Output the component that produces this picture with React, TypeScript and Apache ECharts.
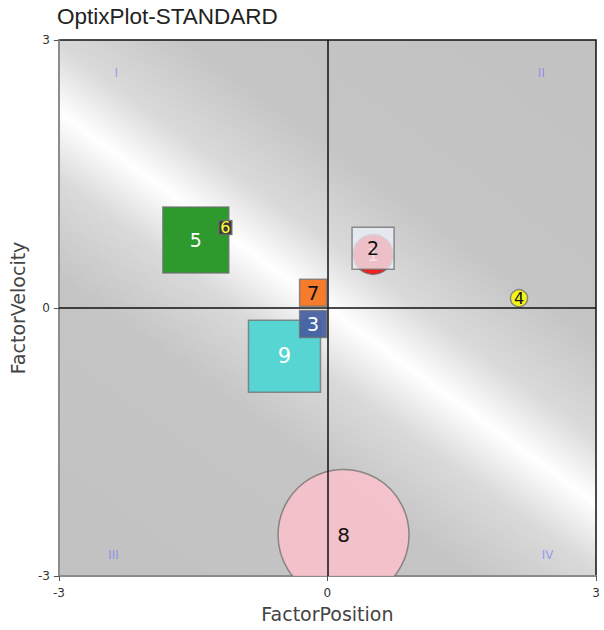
import React, { useEffect, useRef } from "react";
import * as echarts from "echarts";

// ---- data ----
const ids = ["1", "2", "3", "4", "5", "6", "7", "8", "9"];
const factorPosition = [0.51, 0.51, -0.16, 2.14, -1.47, -1.14, -0.16, 0.18, -0.48];
const factorVelocity = [0.6, 0.67, -0.18, 0.11, 0.76, 0.9, 0.17, -2.54, -0.54];
const weights = [40, 42, 27, 17, 66, 13, 27, 131, 72];
const drawOrder = ["8", "9", "3", "7", "5", "6", "1", "2", "4"];
const quadrantNames = ["I", "II", "III", "IV"];
const quadrantX = [-2.36, 2.39, -2.39, 2.46];
const quadrantY = [2.63, 2.63, -2.76, -2.76];
const axisTicks = [-3, 0, 3];

// ---- styles ----
const styleById: Record<string, any> = {
  "1": { symbol: "circle", color: "#f21f1f", label: "rgba(255,255,255,0.55)", fs: 18 },
  "2": { symbol: "rect", color: "rgba(236,238,248,0.78)", label: "#111", fs: 19 },
  "3": { symbol: "rect", color: "rgba(70,96,160,0.94)", label: "#fff", fs: 19 },
  "4": { symbol: "circle", color: "#f4f41c", label: "#111", fs: 16 },
  "5": { symbol: "rect", color: "#2e9a2e", label: "#fff", fs: 19 },
  "6": { symbol: "rect", color: "#3a3a3a", label: "#ffff33", fs: 16, h: 14 },
  "7": { symbol: "rect", color: "#f47c2a", label: "#111", fs: 20 },
  "8": { symbol: "circle", color: "rgba(255,192,204,0.78)", label: "#111", fs: 20 },
  "9": { symbol: "rect", color: "#57d5d3", label: "#fff", fs: 21 },
};

export default function App() {
  const ref = useRef<HTMLDivElement>(null);
  useEffect(() => {
    if (!ref.current) return;
    const chart = echarts.init(ref.current, null, { renderer: "svg" });
    const font = "'DejaVu Sans', Verdana, sans-serif";

    const bubbleData = drawOrder.map((id) => {
      const i = ids.indexOf(id);
      return { name: id, value: [factorPosition[i], factorVelocity[i], weights[i]] };
    });

    const renderBubble = (params: any, api: any) => {
      const id = bubbleData[params.dataIndex].name;
      const s = styleById[id];
      const c = api.coord([api.value(0), api.value(1)]);
      const w = api.value(2);
      const h = s.h || w;
      const style = {
        fill: s.color,
        stroke: "rgba(110,110,110,0.75)",
        lineWidth: 1.5,
      };
      const textContent = {
        style: {
          text: id,
          fill: s.label,
          fontSize: s.fs,
          fontFamily: font,
        },
      };
      const textConfig = { position: "inside" };
      if (s.symbol === "circle") {
        return {
          type: "circle",
          shape: { cx: c[0], cy: c[1], r: w / 2 },
          style,
          textContent,
          textConfig,
        };
      }
      return {
        type: "rect",
        shape: { x: c[0] - w / 2, y: c[1] - h / 2, width: w, height: h },
        style,
        textContent,
        textConfig,
      };
    };

    const quadrantData = quadrantNames.map((n, i) => ({
      name: n,
      value: [quadrantX[i], quadrantY[i]],
    }));

    const axisCommon = {
      type: "value",
      min: -3,
      max: 3,
      interval: 3,
      splitLine: { show: false },
      axisLine: { show: true, onZero: false, lineStyle: { color: "#8c8c8c", width: 2 } },
      axisTick: { show: true, length: 5, lineStyle: { color: "#555", width: 1 } },
      axisLabel: {
        fontSize: 12,
        color: "#333",
        fontFamily: font,
        customValues: axisTicks,
      },
      nameLocation: "middle",
      nameTextStyle: { fontSize: 19, color: "#444", fontFamily: font },
    };

    chart.setOption({
      animation: false,
      backgroundColor: "#ffffff",
      title: {
        text: "OptixPlot-STANDARD",
        left: 52,
        top: 0,
        textStyle: {
          fontSize: 22.5,
          fontWeight: "normal",
          color: "#222",
          fontFamily: "'Liberation Sans', Arial, sans-serif",
        },
      },
      grid: {
        left: 58,
        right: 8,
        top: 40,
        bottom: 54,
        show: true,
        borderColor: "#111",
        borderWidth: 1.5,
        backgroundColor: new echarts.graphic.LinearGradient(0.135, 1, 0.865, 0, [
          { offset: 0, color: "#c2c2c2" },
          { offset: 0.3, color: "#c5c5c5" },
          { offset: 0.42, color: "#dadada" },
          { offset: 0.5, color: "#ffffff" },
          { offset: 0.58, color: "#dadada" },
          { offset: 0.7, color: "#c5c5c5" },
          { offset: 1, color: "#c2c2c2" },
        ]),
      },
      xAxis: {
        ...axisCommon,
        name: "FactorPosition",
        nameGap: 28,
        axisLabel: { ...axisCommon.axisLabel, margin: 11 },
      },
      yAxis: {
        ...axisCommon,
        name: "FactorVelocity",
        nameGap: 30,
        axisLabel: { ...axisCommon.axisLabel, margin: 9 },
      },
      series: [
        {
          type: "scatter",
          z: 1,
          data: [],
          silent: true,
          markLine: {
            silent: true,
            symbol: "none",
            label: { show: false },
            lineStyle: { color: "#111", width: 1.5, type: "solid" },
            data: [{ xAxis: 0 }, { yAxis: 0 }],
          },
        },
        {
          type: "scatter",
          z: 2,
          data: quadrantData,
          symbolSize: 0,
          silent: true,
          label: {
            show: true,
            position: "inside",
            formatter: (p: any) => p.name,
            color: "rgba(110,110,250,0.75)",
            fontSize: 12,
            fontFamily: font,
          },
        },
        {
          type: "custom",
          z: 3,
          clip: true,
          silent: true,
          data: bubbleData,
          renderItem: renderBubble,
        },
      ],
    });
    return () => chart.dispose();
  }, []);
  return (
    <div
      ref={ref}
      style={{ position: "fixed", left: 0, top: 0, width: 604, height: 630 }}
    />
  );
}
